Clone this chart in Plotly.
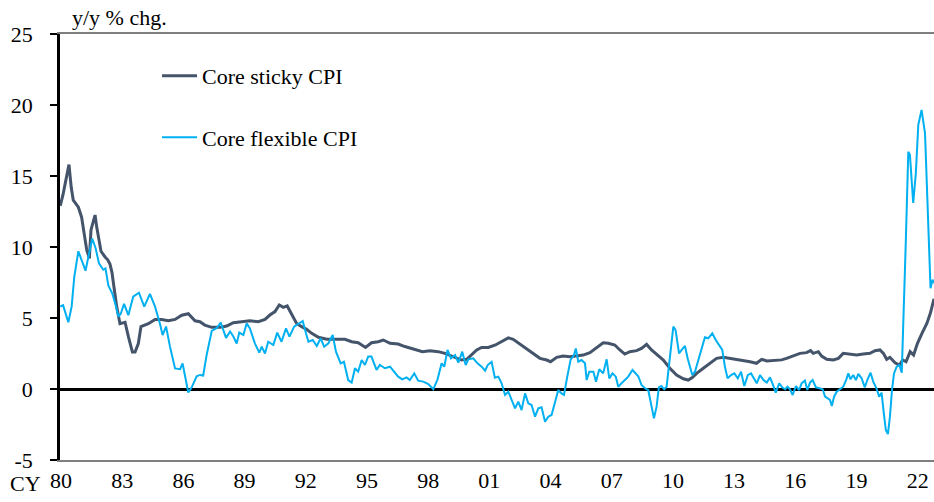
import plotly.graph_objects as go

# ---- data ----
sticky_year = [1979.96, 1980.1, 1980.25, 1980.39, 1980.5, 1980.6, 1980.85, 1981.01, 1981.15, 1981.26,
               1981.39, 1981.47, 1981.6, 1981.67, 1981.75, 1981.83, 1981.96, 1982.16, 1982.29, 1982.4,
               1982.5, 1982.57, 1982.73, 1982.89, 1983.14, 1983.3, 1983.5, 1983.63, 1983.79, 1983.92,
               1984.28, 1984.61, 1984.93, 1985.26, 1985.59, 1985.92, 1986.24, 1986.57, 1986.81, 1987.05,
               1987.39, 1987.8, 1988.12, 1988.45, 1988.94, 1989.26, 1989.67, 1990.0, 1990.24, 1990.49,
               1990.7, 1990.9, 1991.09, 1991.31, 1991.55, 1991.8, 1992.04, 1992.29, 1992.62, 1993.03,
               1993.52, 1993.92, 1994.25, 1994.57, 1994.93, 1995.22, 1995.55, 1995.8, 1996.13, 1996.53,
               1996.86, 1997.19, 1997.44, 1997.72, 1998.09, 1998.5, 1998.82, 1999.15, 1999.4, 1999.64,
               1999.89, 2000.13, 2000.38, 2000.62, 2000.95, 2001.3, 2001.68, 2001.93, 2002.17, 2002.5,
               2002.83, 2003.15, 2003.48, 2003.81, 2004.0, 2004.3, 2004.62, 2004.95, 2005.28, 2005.6,
               2005.93, 2006.26, 2006.58, 2006.83, 2007.15, 2007.4, 2007.64, 2007.89, 2008.22, 2008.46,
               2008.71, 2008.95, 2009.2, 2009.53, 2009.85, 2010.18, 2010.51, 2010.75, 2010.95, 2011.16,
               2011.49, 2011.82, 2012.14, 2012.47, 2012.8, 2013.12, 2013.45, 2013.78, 2014.1, 2014.35,
               2014.6, 2014.92, 2015.33, 2015.57, 2015.9, 2016.23, 2016.55, 2016.75, 2016.88, 2017.13,
               2017.29, 2017.54, 2017.86, 2018.11, 2018.35, 2018.68, 2019.01, 2019.33, 2019.66, 2019.91,
               2020.15, 2020.32, 2020.48, 2020.64, 2020.89, 2021.1, 2021.27, 2021.43, 2021.63, 2021.8,
               2021.99, 2022.21, 2022.45, 2022.62, 2022.8]
sticky_val = [12.9, 13.7, 14.8, 15.8, 14.2, 13.3, 12.8, 12.1, 10.8, 9.8,
              9.2, 11.2, 11.9, 12.25, 11.4, 10.7, 9.7, 9.3, 9.1, 8.8,
              8.2, 7.45, 5.8, 4.6, 4.7, 3.7, 2.6, 2.6, 3.2, 4.4,
              4.6, 4.9, 4.9, 4.8, 4.9, 5.2, 5.3, 4.8, 4.74, 4.5,
              4.34, 4.34, 4.43, 4.67, 4.74, 4.81, 4.74, 4.9, 5.21, 5.45,
              5.92, 5.75, 5.85, 5.21, 4.62, 4.39, 4.2, 3.92, 3.64, 3.5,
              3.5, 3.5, 3.33, 3.26, 2.93, 3.26, 3.33, 3.45, 3.22, 3.17,
              2.99, 2.86, 2.75, 2.63, 2.7, 2.63, 2.51, 2.32, 2.16, 2.04,
              2.09, 2.39, 2.75, 2.93, 2.93, 3.1, 3.4, 3.6, 3.5, 3.17,
              2.79, 2.51, 2.16, 2.04, 1.92, 2.23, 2.32, 2.28, 2.32, 2.39,
              2.56, 2.93, 3.26, 3.22, 3.1, 2.75, 2.46, 2.63, 2.7, 2.86,
              3.14, 2.75, 2.46, 2.04, 1.46, 0.98, 0.72, 0.63, 0.8, 1.1,
              1.46, 1.81, 2.16, 2.23, 2.16, 2.04, 1.97, 1.92, 1.81, 2.09,
              1.97, 1.99, 2.05, 2.16, 2.32, 2.51, 2.56, 2.7, 2.51, 2.63,
              2.32, 2.09, 2.04, 2.16, 2.51, 2.46, 2.39, 2.46, 2.51, 2.7,
              2.75, 2.51, 2.09, 2.23, 1.85, 1.69, 2.04, 1.92, 2.63, 2.39,
              3.22, 3.92, 4.62, 5.33, 6.35]

flex_year = [1979.96, 1980.1, 1980.25, 1980.36, 1980.52, 1980.65, 1980.85, 1981.0, 1981.2, 1981.34,
             1981.53, 1981.7, 1981.86, 1982.07, 1982.18, 1982.32, 1982.52, 1982.68, 1982.81, 1982.93,
             1983.09, 1983.3, 1983.54, 1983.82, 1984.08, 1984.36, 1984.61, 1984.85, 1984.98, 1985.15,
             1985.34, 1985.59, 1985.84, 1985.96, 1986.08, 1986.24, 1986.4, 1986.65, 1986.81, 1986.97,
             1987.14, 1987.39, 1987.64, 1987.83, 1988.09, 1988.29, 1988.45, 1988.61, 1988.74, 1988.94,
             1989.1, 1989.26, 1989.51, 1989.72, 1989.84, 1990.0, 1990.16, 1990.41, 1990.6, 1990.81,
             1991.03, 1991.2, 1991.43, 1991.64, 1991.85, 1992.01, 1992.13, 1992.34, 1992.54, 1992.73,
             1992.9, 1993.11, 1993.32, 1993.48, 1993.71, 1993.87, 1994.08, 1994.25, 1994.41, 1994.57,
             1994.74, 1994.9, 1995.06, 1995.22, 1995.36, 1995.47, 1995.63, 1995.88, 1996.13, 1996.34,
             1996.53, 1996.73, 1996.94, 1997.1, 1997.32, 1997.51, 1997.76, 1998.01, 1998.25, 1998.46,
             1998.66, 1998.79, 1998.95, 1999.12, 1999.32, 1999.48, 1999.67, 1999.84, 1999.97, 2000.21,
             2000.42, 2000.62, 2000.79, 2000.92, 2001.11, 2001.27, 2001.44, 2001.6, 2001.77, 2001.93,
             2002.1, 2002.26, 2002.42, 2002.58, 2002.75, 2002.91, 2003.07, 2003.24, 2003.4, 2003.56,
             2003.73, 2003.89, 2004.05, 2004.22, 2004.38, 2004.54, 2004.66, 2004.82, 2004.98, 2005.15,
             2005.24, 2005.36, 2005.52, 2005.69, 2005.77, 2005.9, 2006.1, 2006.23, 2006.39, 2006.58,
             2006.75, 2006.88, 2007.04, 2007.2, 2007.32, 2007.48, 2007.64, 2007.81, 2008.02, 2008.18,
             2008.3, 2008.46, 2008.63, 2008.79, 2008.92, 2009.07, 2009.2, 2009.31, 2009.44, 2009.57,
             2009.69, 2009.85, 2010.02, 2010.13, 2010.3, 2010.43, 2010.59, 2010.72, 2010.84, 2010.95,
             2011.08, 2011.24, 2011.41, 2011.57, 2011.73, 2011.93, 2012.1, 2012.31, 2012.42, 2012.55,
             2012.68, 2012.85, 2013.01, 2013.18, 2013.34, 2013.5, 2013.67, 2013.83, 2013.99, 2014.11,
             2014.27, 2014.44, 2014.6, 2014.76, 2014.88, 2015.04, 2015.21, 2015.37, 2015.5, 2015.62,
             2015.74, 2015.87, 2016.03, 2016.19, 2016.31, 2016.47, 2016.59, 2016.72, 2016.85, 2017.01,
             2017.18, 2017.34, 2017.46, 2017.59, 2017.7, 2017.79, 2017.9, 2018.03, 2018.19, 2018.35,
             2018.49, 2018.6, 2018.71, 2018.84, 2018.97, 2019.09, 2019.25, 2019.41, 2019.53, 2019.69,
             2019.82, 2019.98, 2020.11, 2020.23, 2020.34, 2020.44, 2020.54, 2020.64, 2020.74, 2020.84,
             2020.97, 2021.1, 2021.22, 2021.3, 2021.42, 2021.54, 2021.62, 2021.78, 2021.91, 2022.03,
             2022.19, 2022.36, 2022.52, 2022.63, 2022.73, 2022.8]
flex_val = [5.8, 5.9, 5.2, 4.7, 5.8, 7.9, 9.7, 9.1, 8.33, 9.3,
            10.6, 9.9, 8.85, 8.4, 8.5, 7.3, 6.7, 5.9, 5.1, 5.3,
            6.0, 5.2, 6.5, 6.78, 5.8, 6.7, 5.8, 4.6, 3.8, 4.4,
            3.0, 1.45, 1.4, 1.8, 0.85, -0.25, 0.1, 0.9, 0.99, 0.95,
            2.4, 4.1, 4.3, 4.67, 3.6, 4.05, 3.7, 3.2, 3.97, 3.8,
            4.62, 4.27, 3.2, 2.56, 2.98, 2.5, 3.33, 3.1, 3.97, 3.33,
            4.27, 3.69, 4.39, 4.62, 4.79, 3.92, 3.33, 3.45, 3.03, 3.57,
            2.98, 3.22, 3.8, 2.63, 1.81, 1.92, 0.63, 0.45, 1.46, 1.22,
            2.04, 1.69, 2.28, 2.28, 1.69, 1.34, 1.69, 1.46, 1.57, 1.22,
            0.87, 0.68, 0.82, 0.63, 1.1, 0.59, 0.52, 0.35, -0.02, 0.68,
            1.81, 1.57, 2.75, 2.16, 2.39, 1.85, 2.63, 1.69, 2.09, 2.16,
            1.81, 1.57, 1.29, 1.69, 1.92, 0.8, 0.87, 0.4, -0.42, -0.19,
            -0.77, -1.36, -0.89, -1.48, -0.31, -1.01, -1.13, -1.95, -1.36, -1.29,
            -2.3, -1.95, -1.83, -0.89, -0.07, -0.31, -0.42, 0.87, 2.04, 2.39,
            2.86, 1.92, 2.04, 1.81, 0.63, 1.22, 1.22, 0.52, 1.39, 1.1,
            2.09, 0.75, 1.1, 0.87, 0.16, 0.4, 0.63, 0.87, 1.34, 1.1,
            0.9, 0.28, 0.05, -0.07, -1.01, -2.07, -1.24, 0.12, 0.21, -0.02,
            0.16, 2.16, 4.39, 4.15, 2.51, 2.75, 3.03, 2.16, 1.46, 0.98,
            1.22, 2.04, 2.98, 3.64, 3.57, 3.92, 3.45, 2.98, 2.75, 1.57,
            0.75, 0.98, 1.1, 0.75, 1.22, 0.21, 0.98, 1.1, 0.75, 0.4,
            0.98, 0.63, 0.45, 0.82, 0.4, -0.26, 0.4, 0.1, -0.02, 0.16,
            -0.02, -0.42, 0.21, -0.07, 0.4, 0.59, -0.07, 0.45, 0.63, 0.12,
            0.05, -0.02, -0.54, -0.66, -0.77, -1.19, -0.54, -0.19, -0.02, 0.16,
            0.63, 1.1, 0.68, 0.98, 0.63, 1.06, 0.75, 0.12, 0.63, 1.15,
            0.52, 0.05, -0.54, -0.26, -1.71, -2.89, -3.17, -1.95, -0.07, 1.1,
            1.57, 1.69, 1.15, 4.6, 10.5, 16.7, 16.5, 13.1, 15.2, 18.6,
            19.65, 18.0, 11.7, 7.1, 7.7, 7.45]

tick_years = [1980, 1983, 1986, 1989, 1992, 1995, 1998, 2001, 2004, 2007, 2010, 2013, 2016, 2019, 2022]
tick_labels = ["80", "83", "86", "89", "92", "95", "98", "01", "04", "07", "10", "13", "16", "19", "22"]
y_ticks = [-5, 0, 5, 10, 15, 20, 25]
y_tick_labels = ["-5", "0", "5", "10", "15", "20", "25"]

FONT = "Liberation Serif"
FS = 22

fig = go.Figure()
fig.add_trace(go.Scatter(x=sticky_year, y=sticky_val, mode="lines", name="Core sticky CPI",
                         legendgroup="a", line=dict(color="#44546A", width=3)))
fig.add_trace(go.Scatter(x=flex_year, y=flex_val, mode="lines", name="Core flexible CPI",
                         legendgroup="b", line=dict(color="#00B0F0", width=2)))

fig.update_layout(
    width=934, height=502,
    margin=dict(l=60, r=0, t=34, b=42),
    paper_bgcolor="white", plot_bgcolor="white",
    font=dict(family=FONT, size=FS, color="black"),
    showlegend=True,
    legend=dict(x=0.111, y=0.951, xanchor="left", yanchor="top",
                bgcolor="rgba(0,0,0,0)", font=dict(family=FONT, size=FS, color="black"),
                tracegroupgap=30, itemwidth=35),
    xaxis=dict(range=[1979.95, 2022.8], tickmode="array", tickvals=tick_years, ticktext=tick_labels,
               showgrid=False, zeroline=False, showline=True, linecolor="#7f7f7f", linewidth=1.5,
               mirror=True, ticks="", tickfont=dict(family=FONT, size=FS, color="black")),
    yaxis=dict(range=[-5, 25], tickmode="array", tickvals=y_ticks, ticktext=y_tick_labels,
               showgrid=False, zeroline=True, zerolinecolor="black", zerolinewidth=2.5,
               showline=True, linecolor="black", linewidth=2.5, mirror=False,
               ticks="outside", ticklen=7, tickwidth=1.5, tickcolor="black",
               ticklabelstandoff=13,
               tickfont=dict(family=FONT, size=FS, color="black")),
    annotations=[
        dict(text="y/y % chg.", xref="paper", yref="paper", x=0.0114, y=1.0376,
             xanchor="left", yanchor="middle", showarrow=False, font=dict(family=FONT, size=FS)),
        dict(text="CY", xref="paper", yref="paper", x=-0.02, y=-0.055,
             xanchor="right", yanchor="middle", showarrow=False, font=dict(family=FONT, size=FS)),
    ],
)

fig.write_html("out.html", config={"displayModeBar": False},
               post_script="document.body.style.margin='0';document.body.style.overflow='hidden';")
